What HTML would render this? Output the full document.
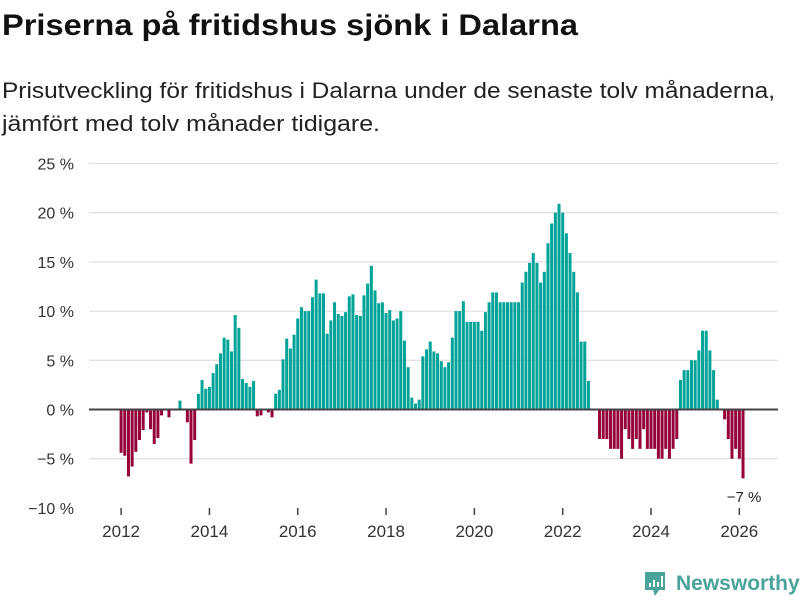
<!DOCTYPE html>
<html><head><meta charset="utf-8"><style>
body{margin:0;background:#fff;width:800px;height:600px;overflow:hidden;font-family:"Liberation Sans",sans-serif;}
svg text{font-family:"Liberation Sans",sans-serif;}
</style></head><body>
<svg id="chart" width="800" height="600" xmlns="http://www.w3.org/2000/svg">
<text x="2" y="35" font-size="30" font-weight="bold" fill="#111" textLength="576" lengthAdjust="spacingAndGlyphs">Priserna på fritidshus sjönk i Dalarna</text>
<text x="2" y="98" font-size="22" fill="#222" textLength="773" lengthAdjust="spacingAndGlyphs">Prisutveckling för fritidshus i Dalarna under de senaste tolv månaderna,</text>
<text x="2" y="131" font-size="22" fill="#222" textLength="378" lengthAdjust="spacingAndGlyphs">jämfört med tolv månader tidigare.</text>
<g id="grid"></g><g id="bars"></g><g id="axes"></g>
<text x="744" y="502" font-size="15" fill="#222" text-anchor="middle">−7 %</text>
<g>
<path d="M645 572 h20 v18 h-6 l-4 6 l-2 -6 h-8 z" fill="#4aa39a"/>
<rect x="649" y="583" width="2" height="4" fill="#fff"/><rect x="653" y="580" width="2" height="7" fill="#fff"/><rect x="657" y="582" width="2" height="5" fill="#fff"/><rect x="661" y="576" width="2" height="11" fill="#fff"/>
<text x="676" y="590" font-size="21" font-weight="bold" fill="#4aa39a">Newsworthy</text>
</g>
</svg>
<script>
const startYear = 2012;
const values = [-4.4,-4.7,-6.8,-5.8,-4.3,-3.1,-2.1,-0.3,-2.0,-3.5,-2.9,-0.6,
0,-0.8,0,0,0.9,0,-1.3,-5.5,-3.1,1.6,3.0,2.1,
2.3,3.7,4.6,5.7,7.3,7.1,5.9,9.6,8.3,3.1,2.7,2.3,
2.9,-0.7,-0.6,0,-0.3,-0.8,1.6,2.0,5.1,7.2,6.2,7.6,
9.25,10.4,10.0,10.0,11.4,13.2,11.8,11.8,7.7,9.05,10.9,9.7,
9.5,9.9,11.5,11.7,9.6,9.5,11.6,12.8,14.6,12.1,10.8,10.9,
9.8,10.1,9.05,9.25,10.0,7.0,4.3,1.2,0.6,1.0,5.4,6.1,
6.9,5.9,5.7,4.9,4.3,4.8,7.3,10.0,10.0,11.0,8.9,8.9,
8.9,8.9,8.0,9.9,10.9,11.9,11.9,10.9,10.9,10.9,10.9,10.9,
10.9,12.9,14.0,14.9,15.9,14.9,12.9,14.0,16.9,18.9,20.0,20.9,
20.0,17.9,15.9,14.0,11.9,6.9,6.9,2.9,0,0,-3,-3,
-3,-4,-4,-4,-5,-2,-3,-4,-3,-4,-2,-4,
-4,-4,-5,-5,-4,-5,-4,-3,3,4,4,5,
5,6,8,8,6,4,1,0,-1,-3,-5,-4,
-5,-7];
const yTicks = [25,20,15,10,5,0,-5,-10];
const yTickLabels = ["25 %","20 %","15 %","10 %","5 %","0 %","−5 %","−10 %"];
const xTickYears = [2012,2014,2016,2018,2020,2022,2024,2026];

const NS="http://www.w3.org/2000/svg";
function xScale(i){return 121.1+3.68*i;}
function yScale(v){return 409.5-v*9.84;}
function mk(tag,attrs,parent){const e=document.createElementNS(NS,tag);for(const k in attrs)e.setAttribute(k,attrs[k]);parent.appendChild(e);return e;}
const grid=document.getElementById('grid'),bars=document.getElementById('bars'),axes=document.getElementById('axes');
yTicks.forEach((t,k)=>{
  const y=yScale(t);
  if(t!==0&&t!==-10){const l=mk('line',{x1:89,x2:778,y1:y,y2:y,stroke:'#e0e0e0','stroke-width':1.3},grid);
  
  }
  const tx=mk('text',{x:74,y:y+6,'font-size':16,fill:'#333','text-anchor':'end'},axes);
  tx.textContent=yTickLabels[k];
  
  
});
values.forEach((v,i)=>{
  const x=xScale(i)-1.5,y0=yScale(0),y1=yScale(v);
  if(v===0)return;
  const r=mk('rect',{x:x,width:3,y:Math.min(y0,y1),height:Math.abs(y1-y0),fill:v>0?'#00a398':'#95003a'},bars);
  
  
});
const zl=mk('line',{x1:89,x2:778,y1:yScale(0),y2:yScale(0),stroke:'#444','stroke-width':2},axes);


xTickYears.forEach(yr=>{
  const x=xScale((yr-startYear)*12);
  const tk=mk('line',{x1:x,x2:x,y1:508,y2:515,stroke:'#444','stroke-width':1.5},axes);
  
  
  const tx=mk('text',{x:x,y:537,'font-size':17,fill:'#333','text-anchor':'middle'},axes);
  tx.textContent=yr;
  
  
});
</script>
</body></html>
